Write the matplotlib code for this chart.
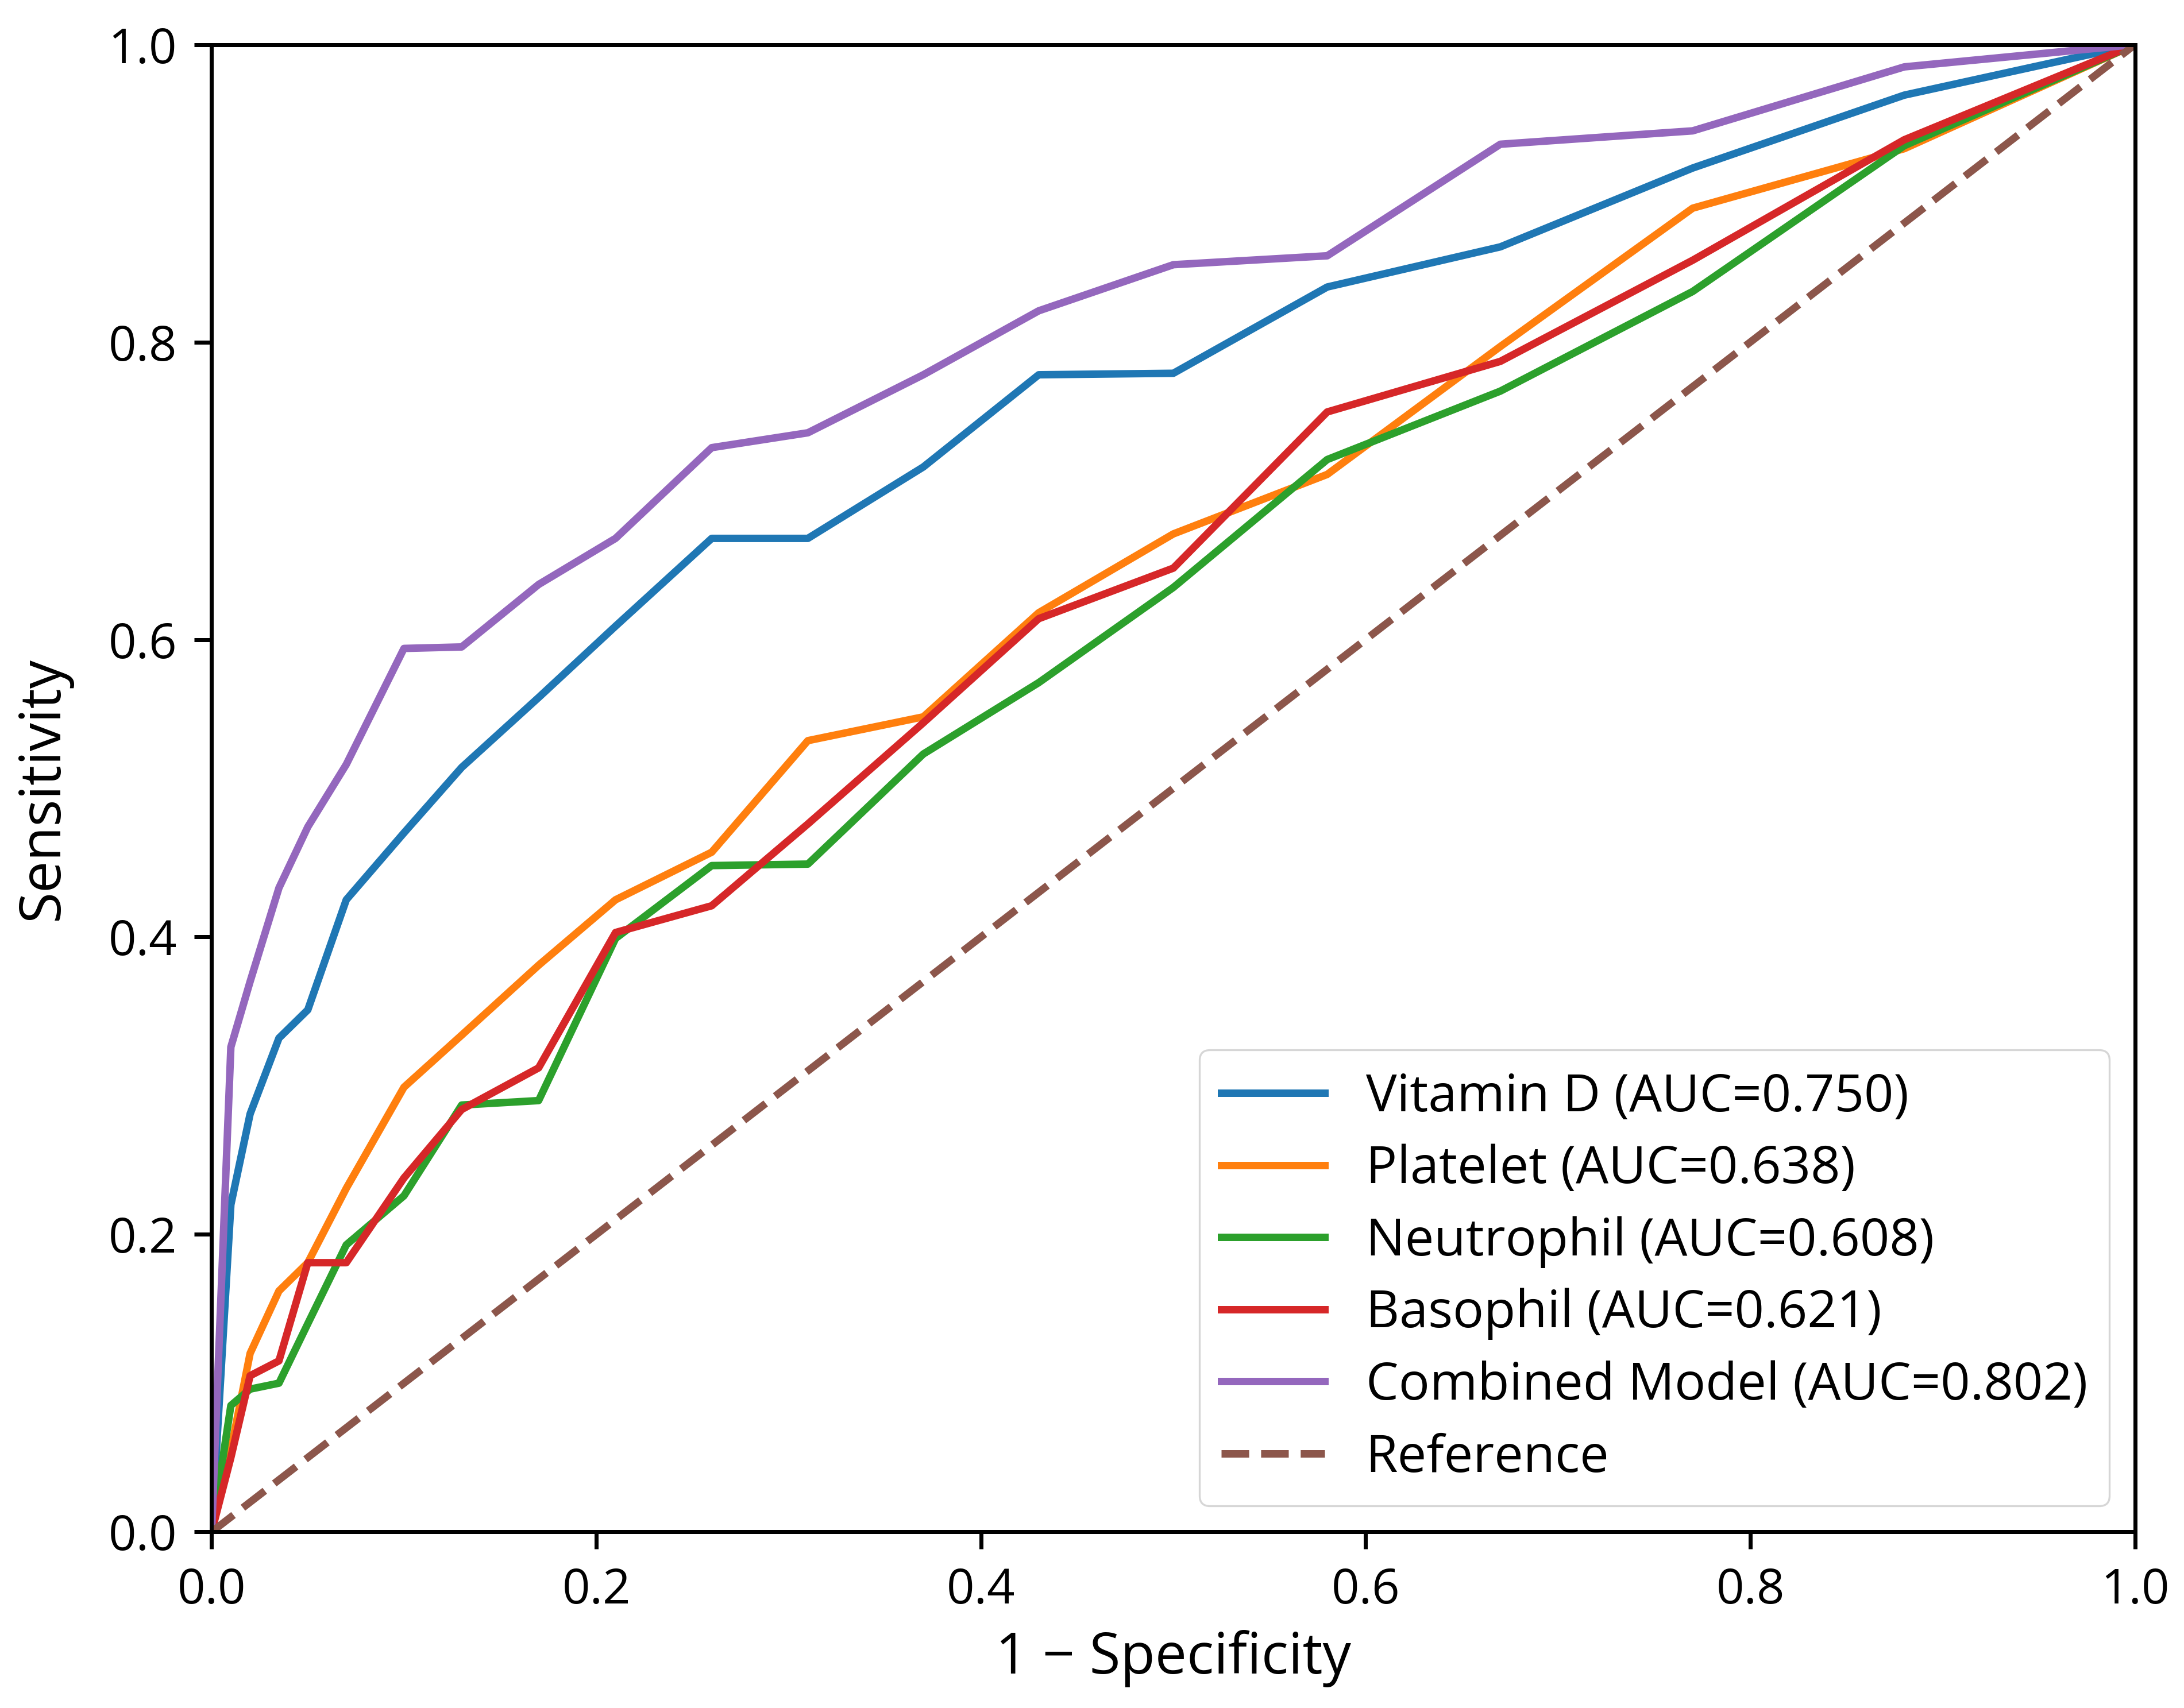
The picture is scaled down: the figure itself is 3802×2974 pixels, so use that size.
"""
ROC curves for single markers and the combined model.
"""

import matplotlib
matplotlib.use("Agg")
import matplotlib.pyplot as plt

# False positive rate grid (1 - specificity)
fpr = [0, 0.01, 0.02, 0.035, 0.05, 0.07, 0.10, 0.13, 0.17, 0.21,
       0.26, 0.31, 0.37, 0.43, 0.50, 0.58, 0.67, 0.77, 0.88, 1.0]

# Sensitivity per marker
tpr_vitamin_d = [0, 0.220, 0.281, 0.332, 0.351, 0.425, 0.470, 0.514, 0.561, 0.609,
                 0.668, 0.668, 0.716, 0.778, 0.779, 0.837, 0.864, 0.917, 0.966, 1.0]
tpr_platelet = [0, 0.055, 0.120, 0.162, 0.181, 0.231, 0.299, 0.334, 0.381, 0.425,
                0.457, 0.532, 0.548, 0.618, 0.671, 0.711, 0.797, 0.890, 0.930, 1.0]
tpr_neutrophil = [0, 0.085, 0.096, 0.100, 0.140, 0.193, 0.226, 0.287, 0.290, 0.399,
                  0.448, 0.449, 0.523, 0.571, 0.635, 0.721, 0.767, 0.834, 0.932, 1.0]
tpr_basophil = [0, 0.050, 0.105, 0.115, 0.181, 0.181, 0.238, 0.284, 0.312, 0.403,
                0.421, 0.476, 0.544, 0.614, 0.648, 0.753, 0.787, 0.855, 0.936, 1.0]
tpr_combined = [0, 0.326, 0.370, 0.433, 0.474, 0.516, 0.594, 0.595, 0.637, 0.668,
                0.729, 0.739, 0.778, 0.821, 0.852, 0.858, 0.933, 0.942, 0.985, 1.0]

labels = ['Vitamin D', 'Platelet', 'Neutrophil', 'Basophil', 'Combined Model']
aucs = [0.750, 0.638, 0.608, 0.621, 0.802]
colors = ['#1f77b4', '#ff7f0e', '#2ca02c', '#d62728', '#9467bd']

reference = [0, 1]


def plot_roc(out_path="out.png"):
    plt.rcParams['font.family'] = ['Open Sans', 'DejaVu Sans']

    fig = plt.figure(figsize=(3802 / 240, 2974 / 240), dpi=240)
    ax = fig.add_axes([0.0969, 0.1031, 0.8807, 0.8708])

    curves = [tpr_vitamin_d, tpr_platelet, tpr_neutrophil, tpr_basophil, tpr_combined]
    for tpr, name, auc, c in zip(curves, labels, aucs, colors):
        ax.plot(fpr, tpr, color=c, lw=3.9, label=f'{name} (AUC={auc:.3f})')

    ax.plot(reference, reference, color='#8c564b', lw=3.9, ls='--', label='Reference')

    ax.set_xlim(0, 1)
    ax.set_ylim(0, 1)
    ax.set_xlabel('1 \u2212 Specificity', fontsize=29.5, labelpad=8)
    ax.set_ylabel('Sensitivity', fontsize=29.5, labelpad=19)
    ax.tick_params(labelsize=25.5, length=9.1, width=2.1, pad=9)
    for sp in ax.spines.values():
        sp.set_linewidth(2.1)

    ax.legend(loc='lower right', fontsize=27, labelspacing=0.39,
              handlelength=2.0, borderpad=0.42)

    fig.savefig(out_path, dpi=240)
    plt.close(fig)


if __name__ == "__main__":
    plot_roc()
